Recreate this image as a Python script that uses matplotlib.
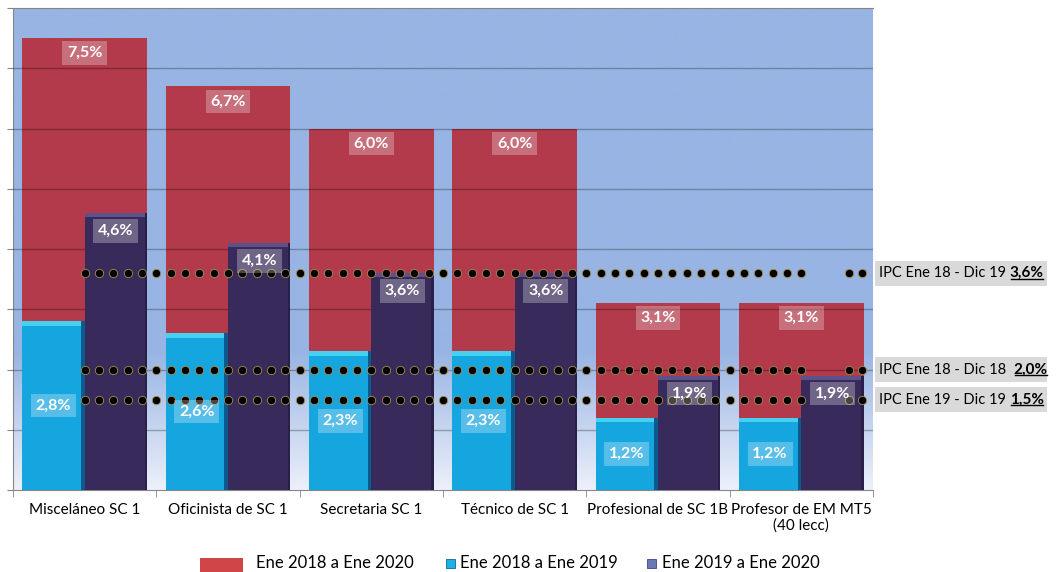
import numpy as np
import matplotlib
matplotlib.use("Agg")
import matplotlib.pyplot as plt
from matplotlib.patches import Rectangle
from matplotlib.lines import Line2D

plt.rcParams["font.family"] = ["Lato", "DejaVu Sans"]

categories = ["Misceláneo SC 1", "Oficinista de SC 1", "Secretaria SC 1",
              "Técnico de SC 1", "Profesional de SC 1B", "Profesor de EM MT5\n(40 lecc)"]
ene18_ene20 = [7.5, 6.7, 6.0, 6.0, 3.1, 3.1]
ene18_ene19 = [2.8, 2.6, 2.3, 2.3, 1.2, 1.2]
ene19_ene20 = [4.6, 4.1, 3.6, 3.6, 1.9, 1.9]
series_names = ["Ene 2018 a Ene 2020", "Ene 2018 a Ene 2019", "Ene 2019 a Ene 2020"]
ipc_values = [3.6, 2.0, 1.5]
ipc_labels = ["IPC Ene 18 - Dic 19 ", "IPC Ene 18 - Dic 18  ", "IPC Ene 19 - Dic 19 "]

RED = "#B23A4A"
CYAN = "#15A6E0"
PURPLE = "#382A5A"
BG = np.array([152, 180, 227]) / 255
BG_LOW = np.array([236, 240, 250]) / 255


def fmt(v):
    return f"{v:.1f}".replace(".", ",") + "%"


W, H = 1062, 572
fig = plt.figure(figsize=(W / 100, H / 100), dpi=100)
ax = fig.add_axes([13 / W, 1 - 490 / H, 860 / W, 482 / H])
ymax = 8
ax.set_xlim(-0.5, len(categories) - 0.5)
ax.set_ylim(0, ymax)

# background gradient
yy = np.linspace(0, ymax, 400)
t = np.clip(yy / 2.3, 0, 1)[:, None]
grad = (BG_LOW * (1 - t) + BG * t)[:, None, :]
ax.imshow(grad, extent=(-0.5, len(categories) - 0.5, 0, ymax), origin="lower",
          aspect="auto", zorder=0, interpolation="bilinear")

x = np.arange(len(categories))
bw = 0.87
hw = bw / 2

ax.bar(x, ene18_ene20, width=bw, color=RED, zorder=2)
for g in range(1, ymax):
    ax.axhline(g, color="black", alpha=0.28, lw=1, zorder=3)

# cyan bars with bevel
c18 = np.array(ene18_ene19)
ax.bar(x - hw / 2, c18, width=hw, color=CYAN, zorder=4)
ax.bar(x - hw / 2, 0.07, bottom=c18 - 0.07, width=hw, color="#45D2F2", zorder=5)
ax.bar(x - 0.012, c18, width=0.025, color="#0B5A8E", zorder=5)

# purple bars with bevel
p19 = np.array(ene19_ene20)
ax.bar(x + hw / 2, p19, width=hw, color=PURPLE, zorder=6)
ax.bar(x + hw / 2, 0.07, bottom=p19 - 0.07, width=hw, color="#5D5189", zorder=7)
ax.bar(x + hw - 0.008, p19, width=0.016, color="#2A1F48", zorder=7)

# IPC dotted reference lines
dots_x = np.concatenate([np.arange(0, 5.001, 0.1), [5.33, 5.42]])
for v in ipc_values:
    ax.scatter(dots_x, np.full(dots_x.shape, v), s=36, color="black",
               edgecolors="#A8904A", linewidths=0.6, zorder=8)

lbl_box = dict(boxstyle="square,pad=0.3", fc="white", alpha=0.28, ec="none")
lbl_kw = dict(color="white", fontsize=11.5, fontweight="bold", ha="center",
              va="center", bbox=lbl_box, zorder=9)
for i in range(len(categories)):
    ax.text(x[i], ene18_ene20[i] - 0.25, fmt(ene18_ene20[i]), **lbl_kw)
    ax.text(x[i] - hw / 2, ene18_ene19[i] / 2, fmt(ene18_ene19[i]), **lbl_kw)
    ax.text(x[i] + hw / 2, ene19_ene20[i] - 0.3, fmt(ene19_ene20[i]), **lbl_kw)

# axes styling
ax.spines["right"].set_visible(False)
for s in ["left", "bottom", "top"]:
    ax.spines[s].set_color("#868686")
ax.set_yticks(range(ymax + 1))
ax.set_yticklabels([])
ax.tick_params(axis="y", length=4, color="#868686")
ax.set_xticks(x)
ax.set_xticklabels(categories, fontsize=11)
ax.set_xticks(np.arange(-0.5, len(categories)), minor=True)
ax.tick_params(axis="x", which="major", length=0, pad=9)
ax.tick_params(axis="x", which="minor", length=5, color="#868686")

# IPC labels on the right
fig.canvas.draw()
renderer = fig.canvas.get_renderer()
box_h = 25
prev_bottom = None
for v, lab in zip(ipc_values, ipc_labels):
    py = ax.transData.transform((0, v))[1]
    cy = H - py
    top = cy - box_h / 2
    if prev_bottom is not None and top < prev_bottom + 3:
        top = prev_bottom + 3
    prev_bottom = top + box_h
    cy = top + box_h / 2
    fig.add_artist(Rectangle((875 / W, 1 - (top + box_h) / H), 172 / W, box_h / H,
                             transform=fig.transFigure, fc="#D9D9D9", ec="none"))
    tr = fig.text(879 / W, 1 - cy / H, lab, fontsize=10.5, va="center", ha="left")
    rb = tr.get_window_extent(renderer)
    tb = fig.text(rb.x1 / W, 1 - cy / H, fmt(v), fontsize=11, fontweight="bold",
                  va="center", ha="left")
    bb = tb.get_window_extent(renderer)
    fig.add_artist(Line2D([(bb.x0 + 1) / W, (bb.x1 - 1) / W], [(bb.y0 + 1.5) / H] * 2,
                          transform=fig.transFigure, color="black", lw=1))

# legend
leg_y = 563
fig.add_artist(Rectangle((200 / W, 1 - 572 / H), 43 / W, 14 / H,
                         transform=fig.transFigure, fc="#D04545", ec="none"))
fig.text(256 / W, 1 - leg_y / H, series_names[0], fontsize=12, va="center")
fig.add_artist(Rectangle((446 / W, 1 - (leg_y + 4.5) / H), 9 / W, 9 / H,
                         transform=fig.transFigure, fc="#1FB0E8", ec="#0B6A9E", lw=0.6))
fig.text(460 / W, 1 - leg_y / H, series_names[1], fontsize=12, va="center")
fig.add_artist(Rectangle((647 / W, 1 - (leg_y + 4.5) / H), 9 / W, 9 / H,
                         transform=fig.transFigure, fc="#6A7AB0", ec="#3A4A80", lw=0.6))
fig.text(662 / W, 1 - leg_y / H, series_names[2], fontsize=12, va="center")

fig.savefig("out.png", dpi=100)
